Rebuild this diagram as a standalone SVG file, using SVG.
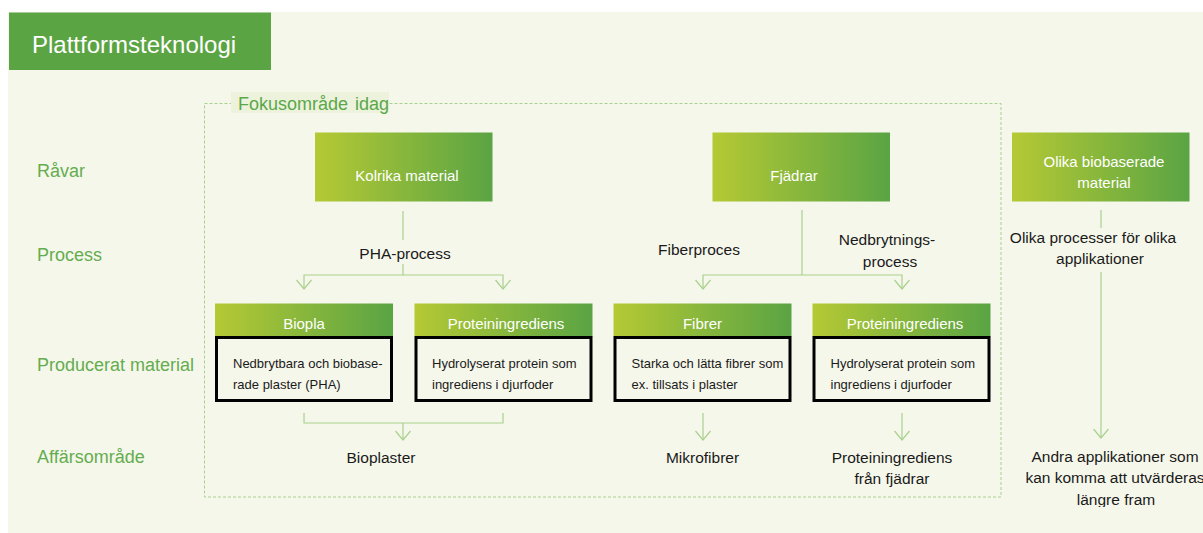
<svg xmlns="http://www.w3.org/2000/svg" width="1203" height="533" viewBox="0 0 1203 533">
  <defs>
    <linearGradient id="g" x1="0" y1="0" x2="1" y2="0">
      <stop offset="0" stop-color="#b5c934"/>
      <stop offset="1" stop-color="#5aa444"/>
    </linearGradient>
    <marker id="arr" markerUnits="userSpaceOnUse" markerWidth="20" markerHeight="20" viewBox="-10 -10 20 20" refX="0" refY="0" orient="auto" overflow="visible">
      <path d="M-9,-7.5 L0,0 L-9,7.5" fill="none" stroke="#a9d18e" stroke-width="1.2"/>
    </marker>
    <clipPath id="clipOther">
      <rect x="1000" y="440" width="203" height="67"/>
    </clipPath>
  </defs>
  <style>
    text { font-family: "Liberation Sans", Arial, sans-serif; }
    .row { font-size: 18px; fill: #64ad4f; }
    .nt { font-size: 15px; fill: #ffffff; text-anchor: middle; }
    .lbl { font-size: 15.5px; fill: #1a1a1a; text-anchor: middle; }
    .body { font-size: 13px; fill: #1a1a1a; }
    .node { fill: url(#g); }
    .box { fill: none; stroke: #000; stroke-width: 3; }
    .con { fill: none; stroke: #a9d18e; stroke-width: 1.2; }
    .arr { marker-end: url(#arr); }
    .dash { fill: none; stroke: #a9d18e; stroke-width: 1; stroke-dasharray: 3 2; }
  </style>

  <rect x="0" y="0" width="1203" height="533" fill="#ffffff"/>
  <rect x="8" y="12" width="1195" height="521" fill="#f6f7eb"/>

  <g id="title">
    <rect x="9" y="12.5" width="262" height="57.5" fill="#5ba443"/>
    <text x="32" y="53" font-size="24" fill="#ffffff">Plattformsteknologi</text>
  </g>

  <g id="focus-area">
    <rect class="dash" x="204.5" y="103.5" width="796.5" height="393.5"/>
    <rect x="231" y="92" width="158" height="21" fill="#edf2dc"/>
    <text x="238" y="110" font-size="18" fill="#5aa84a" word-spacing="2">Fokusområde idag</text>
  </g>

  <g id="row-labels">
    <text class="row" x="37" y="177">Råvar</text>
    <text class="row" x="37" y="261">Process</text>
    <text class="row" x="37" y="371">Producerat material</text>
    <text class="row" x="37" y="463">Affärsområde</text>
  </g>

  <g id="connectors">
    <line class="con" x1="403" y1="211" x2="403" y2="240"/>
    <path class="con arr" d="M403,264 V275 H304 V289"/>
    <path class="con arr" d="M403,275 H503 V289"/>
    <line class="con" x1="802" y1="210" x2="802" y2="275"/>
    <path class="con arr" d="M802,275 H703 V289"/>
    <path class="con arr" d="M802,275 H902 V289"/>
    <line class="con" x1="1101" y1="210" x2="1101" y2="228"/>
    <path class="con arr" d="M1101,272 V438"/>
    <path class="con" d="M304,413 V423 H503 V413"/>
    <path class="con arr" d="M403,423 V440"/>
    <path class="con arr" d="M703,413 V440"/>
    <path class="con arr" d="M902,413 V440"/>
  </g>

  <g id="n-kolrika">
    <rect class="node" x="315" y="132.5" width="177.5" height="69"/>
    <text class="nt" x="407" y="181">Kolrika material</text>
  </g>
  <g id="n-fjadrar">
    <rect class="node" x="712.5" y="132.5" width="177.5" height="69"/>
    <text class="nt" x="794" y="181">Fjädrar</text>
  </g>
  <g id="n-olika">
    <rect class="node" x="1012" y="132.5" width="177.5" height="69"/>
    <text class="nt" x="1104" y="167">Olika biobaserade</text>
    <text class="nt" x="1104" y="188">material</text>
  </g>

  <g id="process-labels">
    <text class="lbl" x="405" y="259">PHA-process</text>
    <text class="lbl" x="699" y="255">Fiberproces</text>
    <text class="lbl" x="887" y="245">Nedbrytnings-</text>
    <text class="lbl" x="890" y="267">process</text>
    <text class="lbl" x="1093" y="243">Olika processer för olika</text>
    <text class="lbl" x="1100" y="264">applikationer</text>
  </g>

  <g id="n-biopla">
    <rect class="node" x="215" y="303.5" width="178" height="33"/>
    <text class="nt" x="304" y="328.5">Biopla</text>
    <rect class="box" x="216.5" y="337.5" width="175" height="63"/>
    <text class="body" x="233" y="368">Nedbrytbara och biobase-</text>
    <text class="body" x="233" y="389">rade plaster (PHA)</text>
  </g>
  <g id="n-protein1">
    <rect class="node" x="414.5" y="303.5" width="178" height="33"/>
    <text class="nt" x="506" y="328.5">Proteiningrediens</text>
    <rect class="box" x="416" y="337.5" width="175" height="63"/>
    <text class="body" x="432" y="368">Hydrolyserat protein som</text>
    <text class="body" x="432" y="389">ingrediens i djurfoder</text>
  </g>
  <g id="n-fibrer">
    <rect class="node" x="613.5" y="303.5" width="178" height="33"/>
    <text class="nt" x="702.5" y="328.5">Fibrer</text>
    <rect class="box" x="615" y="337.5" width="175" height="63"/>
    <text class="body" x="631.5" y="368">Starka och lätta fibrer som</text>
    <text class="body" x="631.5" y="389">ex. tillsats i plaster</text>
  </g>
  <g id="n-protein2">
    <rect class="node" x="812.5" y="303.5" width="178" height="33"/>
    <text class="nt" x="905" y="328.5">Proteiningrediens</text>
    <rect class="box" x="814" y="337.5" width="175" height="63"/>
    <text class="body" x="830.5" y="368">Hydrolyserat protein som</text>
    <text class="body" x="830.5" y="389">ingrediens i djurfoder</text>
  </g>

  <g id="business-labels">
    <text class="lbl" x="381" y="463">Bioplaster</text>
    <text class="lbl" x="702.5" y="463">Mikrofibrer</text>
    <text class="lbl" x="892" y="463">Proteiningrediens</text>
    <text class="lbl" x="892" y="484">från fjädrar</text>
    <g clip-path="url(#clipOther)">
      <text class="lbl" x="1115" y="462">Andra applikationer som</text>
      <text class="lbl" x="1115" y="483">kan komma att utvärderas</text>
      <text class="lbl" x="1116" y="505">längre fram</text>
    </g>
  </g>
</svg>
